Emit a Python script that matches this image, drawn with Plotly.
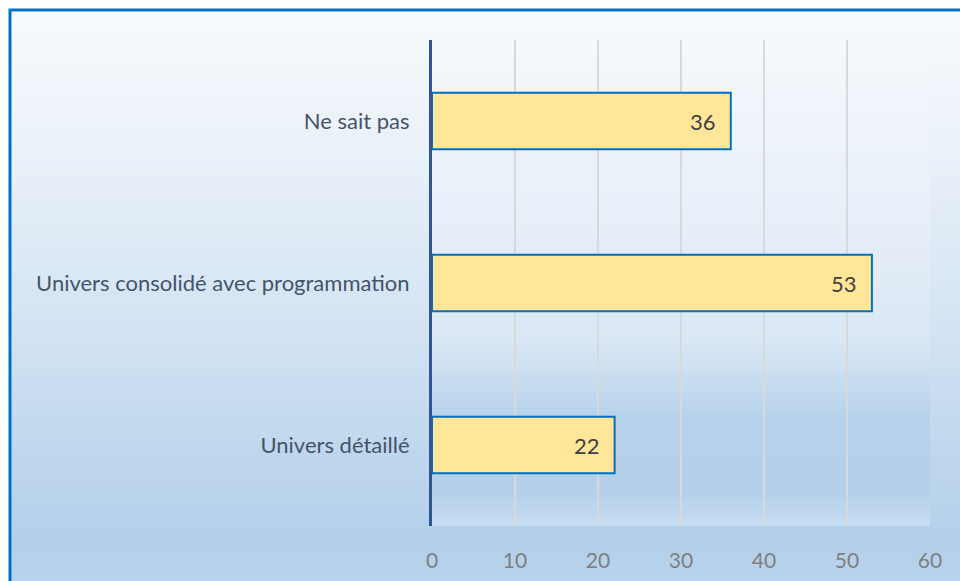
import plotly.graph_objects as go

categories = ["Ne sait pas", "Univers consolidé avec programmation", "Univers détaillé"]
values = [36, 53, 22]
x_ticks = [0, 10, 20, 30, 40, 50, 60]

W, H = 960, 581
M = dict(l=432, r=30, t=40, b=55)
PW = W - M["l"] - M["r"]
PH = H - M["t"] - M["b"]
FONT = "Lato, sans-serif"


def px2x(px):
    return (px - M["l"]) / PW


def py2y(py):
    return (H - M["b"] - py) / PH


def hex2rgb(h):
    h = h.lstrip("#")
    return tuple(int(h[i:i + 2], 16) for i in (0, 2, 4))


def color_at(stops, py):
    for (a, ca), (b, cb) in zip(stops, stops[1:]):
        if a <= py <= b:
            t = (py - a) / (b - a) if b > a else 0
            c1, c2 = hex2rgb(ca), hex2rgb(cb)
            return "rgb(%d,%d,%d)" % tuple(round(c1[i] + (c2[i] - c1[i]) * t) for i in range(3))
    return stops[-1][1]


# background gradients (chart area and plot area)
paper_stops = [(10, "#F8FAFD"), (150, "#EAF1F9"), (330, "#D3E3F3"),
               (450, "#BFD7ED"), (540, "#B4D0EA"), (581, "#B8D3EB")]
plot_stops = [(40, "#F5F8FC"), (200, "#E9F0F9"), (340, "#DAE7F4"),
              (420, "#B5D1EB"), (490, "#B4D0EA"), (526, "#C9DEF2")]

shapes = []
step = 3
for py in range(10, H + step, step):
    shapes.append(dict(type="rect", xref="paper", yref="paper", layer="below",
                       x0=px2x(10), x1=px2x(W + 20), y0=py2y(py + step + 0.5), y1=py2y(py),
                       fillcolor=color_at(paper_stops, py), line=dict(width=0)))
for py in range(40, 526, step):
    shapes.append(dict(type="rect", xref="paper", yref="paper", layer="below",
                       x0=0, x1=1, y0=py2y(min(py + step + 0.5, 526)), y1=py2y(py),
                       fillcolor=color_at(plot_stops, py), line=dict(width=0)))
# chart border
shapes.append(dict(type="rect", xref="paper", yref="paper", layer="above",
                   x0=px2x(10), x1=px2x(W + 20), y0=py2y(H + 20), y1=py2y(10),
                   line=dict(color="#0070C0", width=3), fillcolor="rgba(0,0,0,0)"))

fig = go.Figure(go.Bar(
    y=categories, x=values, orientation="h",
    width=0.35,
    marker=dict(color="#FFE699", line=dict(color="#0070C0", width=2)),
    hoverinfo="skip",
))

for c, v in zip(categories, values):
    fig.add_annotation(x=v, y=c, text=str(v), showarrow=False,
                       xanchor="right", xshift=-13,
                       font=dict(family=FONT, size=22, color="#404040"))

fig.update_layout(
    width=W, height=H,
    margin=M,
    paper_bgcolor="white",
    plot_bgcolor="rgba(0,0,0,0)",
    showlegend=False,
    shapes=shapes,
    xaxis=dict(range=[0, 60], tickvals=x_ticks, showgrid=True, gridcolor="#D9D9D9",
               gridwidth=2, zeroline=False, showline=False, ticks="",
               ticklabelstandoff=20, automargin=False,
               tickfont=dict(family=FONT, size=21, color="#7F7F7F")),
    yaxis=dict(autorange="reversed", showgrid=False, zeroline=False,
               showline=True, linecolor="#2F5597", linewidth=3, ticks="",
               ticklabelstandoff=15, automargin=False,
               tickfont=dict(family=FONT, size=22, color="#44546A")),
)

fig.write_html("out.html", config={"displayModeBar": False},
               post_script="document.body.style.margin='0';")
